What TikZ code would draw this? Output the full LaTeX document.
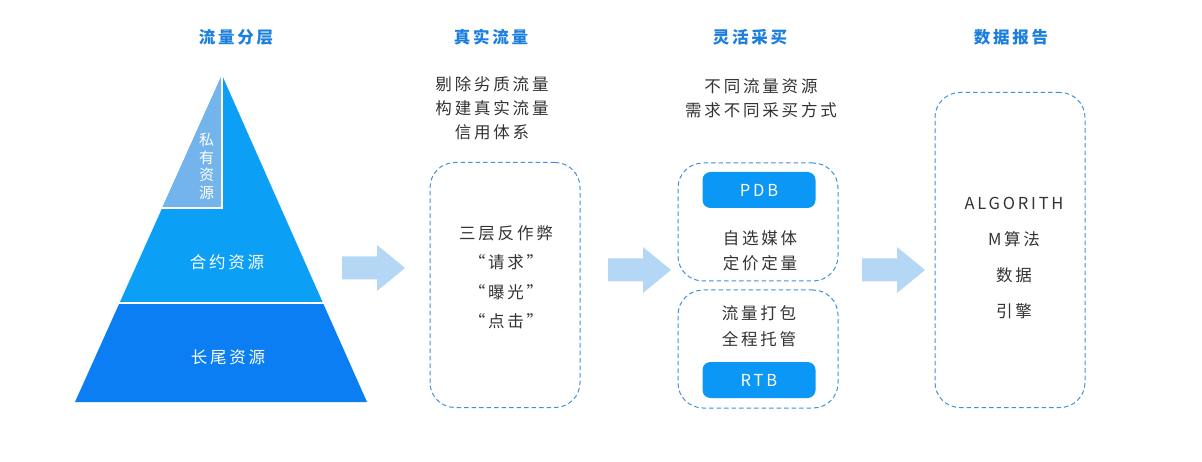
\documentclass[tikz,border=0pt]{standalone}
\usepackage{fontspec}
\setmainfont{Noto Sans CJK SC}
\newfontfamily\cjk[LetterSpace=17]{Noto Sans CJK SC}
\newfontfamily\cjkv[LetterSpace=8]{Noto Sans CJK SC}
\definecolor{titleblue}{HTML}{1C7FDF}
\definecolor{privblue}{HTML}{74B4EC}
\definecolor{midblue}{HTML}{0BA0F6}
\definecolor{lowblue}{HTML}{0A7EF2}
\definecolor{dashblue}{HTML}{3F92DD}
\definecolor{btnblue}{HTML}{0A97F6}
\definecolor{arrowblue}{HTML}{B4D7F6}
\definecolor{txt}{HTML}{333333}
\tikzset{
  ttl/.style={font={\cjk\bfseries\fontsize{16.5}{19}\selectfont}, text=titleblue},
  desc/.style={font={\cjk\fontsize{16.5}{24}\selectfont}, text=txt, align=center},
  boxtxt/.style={font={\cjk\fontsize{16.5}{29.5}\selectfont}, text=txt, align=center},
  pyrtxt/.style={font={\cjk\fontsize{16.5}{19}\selectfont}, text=white},
  dbox/.style={draw=dashblue, line width=1pt, dash pattern=on 4.5pt off 3pt, rounded corners=25pt, inner sep=0pt},
  btn/.style={fill=btnblue, rounded corners=8pt, minimum width=113pt, minimum height=36pt, text=white, font={\cjk\fontsize{16.5}{19}\selectfont}, inner sep=0pt},
  blockarrow/.style={fill=arrowblue}
}
\begin{document}
\begin{tikzpicture}[x=1pt,y=-1pt]
\useasboundingbox[fill=white] (0,0) rectangle (1202,462);
% titles
\node[ttl] (t1) at (236,37) {流量分层};
\node[ttl] (t2) at (491,37) {真实流量};
\node[ttl] (t3) at (750,37) {灵活采买};
\node[ttl] (t4) at (1011,37) {数据报告};
% pyramid
\coordinate (apex) at (222,75);
\fill[lowblue] (119.5,303) -- (323,303) -- (367,402) -- (75,402) -- cycle;
\fill[midblue] (apex) -- (323,303) -- (119.5,303) -- cycle;
\fill[privblue] (apex) -- (222,208) -- (162.2,208) -- cycle;
\draw[white, line width=1.3pt] (apex) -- (222,208) -- (162.2,208);
\draw[white, line width=1.3pt] (118,303) -- (325,303);
\node[font={\cjkv\fontsize{15}{17.7}\selectfont}, text=white, align=center] (priv) at (206.5,166.5) {私\\有\\资\\源};
\node[pyrtxt] (heyue) at (227,262) {合约资源};
\node[pyrtxt] (changwei) at (228,357) {长尾资源};
% descriptions
\node[desc] (d2) at (492,108) {剔除劣质流量\\构建真实流量\\信用体系};
\node[desc] (d3) at (761,98.5) {不同流量资源\\需求不同采买方式};
% boxes
\node[dbox, minimum width=150pt, minimum height=245pt] (b2) at (505,285) {};
\node[boxtxt] (b2t) at (506,277) {三层反作弊\\“请求”\\“曝光”\\“点击”};
\node[dbox, minimum width=160pt, minimum height=118pt] (b3a) at (758,222) {};
\node[dbox, minimum width=160pt, minimum height=118pt] (b3b) at (758,349) {};
\node[btn] (pdb) at (759,190) {PDB};
\node[btn] (rtb) at (759,380) {RTB};
\node[desc, font={\cjk\fontsize{16.5}{25}\selectfont}] (b3at) at (760,250.5) {自选媒体\\定价定量};
\node[desc, font={\cjk\fontsize{16.5}{26}\selectfont}] (b3bt) at (759,326) {流量打包\\全程托管};
\node[dbox, minimum width=150pt, minimum height=315pt] (b4) at (1010,250) {};
\node[boxtxt, font={\cjk\fontsize{16.5}{36}\selectfont}] (b4t) at (1014,258.5) {ALGORITH\\M算法\\数据\\引擎};
% block arrows
\foreach \nm/\x/\y in {a1/342/268, a2/608/270, a3/862/270}{
  \coordinate (\nm) at (\x,\y);
  \fill[blockarrow] (\nm) ++(0,-11.5) -- ++(35,0) -- ++(0,-11.5) -- ++(28,23) -- ++(-28,23) -- ++(0,-11.5) -- ++(-35,0) -- cycle;
}
\end{tikzpicture}
\end{document}
